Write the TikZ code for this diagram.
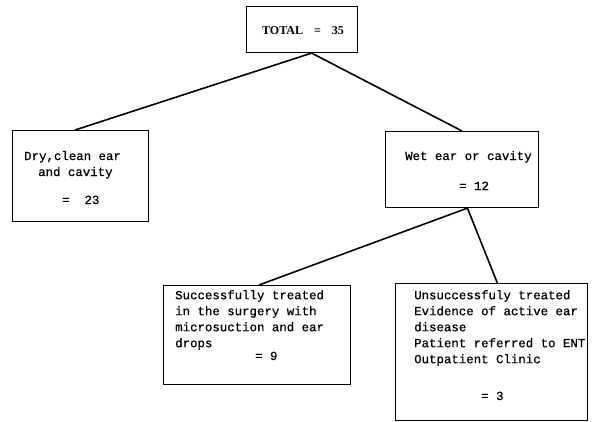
\documentclass[tikz,border=0pt]{standalone}
\usepackage{fontspec}
\setmainfont{Liberation Serif}
\newfontfamily\boxfont[FakeBold=0.7]{Liberation Mono}
\usetikzlibrary{calc}
\begin{document}
\begin{tikzpicture}[x=1pt,y=-1pt,
  box/.style={draw,line width=1.1pt,inner sep=0pt,anchor=north west},
  conn/.style={line width=1.6pt},
  lbl/.style={anchor=base west,inner sep=0pt,font=\boxfont\fontsize{12.4}{16}\selectfont},
  mlbl/.style={anchor=north west,inner sep=0pt,align=left,font=\boxfont\fontsize{12.4}{16}\selectfont}]
\useasboundingbox (0,0) rectangle (611,421);
% boxes
\node[box,minimum width=111pt,minimum height=46pt] (total) at (246,6) {};
\node[box,minimum width=136pt,minimum height=91pt] (dry) at (12,130) {};
\node[box,minimum width=153pt,minimum height=76pt] (wet) at (385,131) {};
\node[box,minimum width=187pt,minimum height=99pt] (succ) at (163,285) {};
\node[box,minimum width=192pt,minimum height=137pt] (unsucc) at (395,283) {};
% texts
\node[anchor=base west,inner sep=0pt,font=\bfseries\fontsize{12}{14}\selectfont] (ttot) at (262,34) {TOTAL\hspace{11pt}=\hspace{11pt}35};
\node[lbl] (d1) at (24,160) {Dry,clean ear};
\node[lbl] (d2) at (38,176) {and cavity};
\node[lbl] (d3) at (62,204) {=\ \ 23};
\node[lbl] (w1) at (405,160) {Wet ear or cavity};
\node[lbl] (w2) at (459,190) {=\ 12};
\node[mlbl] (s1) at (175,290) {Successfully treated\\in the surgery with\\microsuction and ear\\drops};
\node[lbl] (s2) at (255,360) {=\ 9};
\node[mlbl] (u1) at (414,290) {Unsuccessfuly treated\\Evidence of active ear\\disease\\Patient referred to ENT\\Outpatient Clinic};
\node[lbl] (u2) at (481,400) {=\ 3};
% connector points
\coordinate (tb) at ($(total.south west)!0.585!(total.south east)$);
\coordinate (dt) at ($(dry.north west)!0.46!(dry.north east)$);
\coordinate (wt) at ($(wet.north west)!0.50!(wet.north east)$);
\coordinate (wb) at ($(wet.south west)!0.535!(wet.south east)$);
\coordinate (st) at ($(succ.north west)!0.51!(succ.north east)$);
\coordinate (ut) at ($(unsucc.north west)!0.53!(unsucc.north east)$);
\draw[conn] (tb) -- (dt);
\draw[conn] (tb) -- (wt);
\draw[conn] (wb) -- (st);
\draw[conn] (wb) -- (ut);
\end{tikzpicture}
\end{document}
